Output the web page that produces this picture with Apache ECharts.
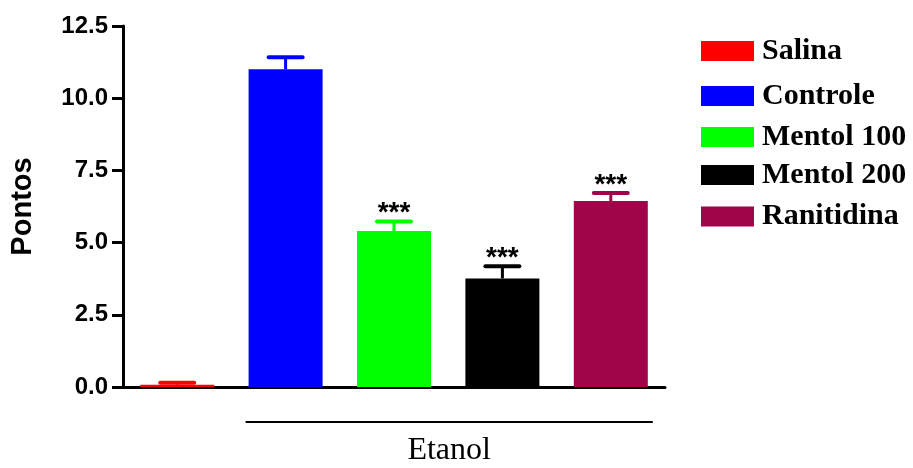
<!DOCTYPE html>
<html>
<head>
<meta charset="utf-8">
<script src="https://cdn.jsdelivr.net/npm/echarts@6/dist/echarts.min.js"></script>
<style>html,body{margin:0;padding:0;background:#fff;}#c{width:913px;height:468px;}</style>
</head>
<body>
<div id="c"></div>
<script>
const categories = ['Salina', 'Controle', 'Mentol 100', 'Mentol 200', 'Ranitidina'];
const means = [0.08, 11.0, 5.40, 3.76, 6.44];
const errors = [0.07, 0.42, 0.33, 0.42, 0.28];
const signif = ['', '', '***', '***', '***'];
const colors = ['#ff0000', '#0000ff', '#00ff00', '#000000', '#a0054a'];
const yTicks = [0, 2.5, 5.0, 7.5, 10.0, 12.5];
const groupLabel = 'Etanol';
const legendTops = [33.5, 78.5, 119.5, 157.5, 199];

const chart = echarts.init(document.getElementById('c'), null, {renderer: 'canvas'});
const BAR_W = 74;

const barSeries = categories.map((name, i) => ({
  name: name,
  type: 'bar',
  barWidth: BAR_W,
  barGap: '-100%',
  itemStyle: {color: colors[i]},
  data: categories.map((_, j) => (j === i ? means[i] : '-')),
  z: 2
}));

const errSeries = {
  type: 'custom',
  z: 3,
  data: categories.map((c, i) => [i, means[i], means[i] + errors[i]]),
  renderItem: function (params, api) {
    const i = api.value(0);
    const top = api.coord([i, api.value(2)]);
    const base = api.coord([i, api.value(1)]);
    const x = top[0];
    const col = colors[i];
    const children = [
      {type: 'line', shape: {x1: x, y1: base[1], x2: x, y2: top[1]}, style: {stroke: col, lineWidth: 3}},
      {type: 'line', shape: {x1: x - 17, y1: top[1], x2: x + 17, y2: top[1]}, style: {stroke: col, lineWidth: 4, lineCap: 'round'}}
    ];
    if (signif[i]) {
      children.push({type: 'text', style: {text: signif[i], x: x, y: top[1] - 8, textAlign: 'center', textVerticalAlign: 'middle', font: 'bold 28px "Liberation Sans", Arial, sans-serif', fill: '#000'}});
    }
    return {type: 'group', children: children};
  }
};

const legends = categories.map((name, i) => ({
  data: [name],
  left: 701,
  top: legendTops[i],
  padding: 0,
  icon: 'rect',
  itemWidth: 53,
  itemHeight: 20,
  selectedMode: false,
  textStyle: {fontFamily: '"Liberation Serif", "Times New Roman", serif', fontWeight: 'bold', fontSize: 30, color: '#000', lineHeight: 30, padding: [5, 0, 0, 3]}
}));

chart.setOption({
  animation: false,
  backgroundColor: '#fff',
  grid: {left: 123, right: 248, top: 26, bottom: 81, containLabel: false},
  legend: legends,
  xAxis: {
    type: 'category',
    data: categories,
    axisLine: {lineStyle: {color: '#000', width: 3}},
    axisTick: {show: false},
    axisLabel: {show: false},
    splitLine: {show: false}
  },
  yAxis: {
    type: 'value',
    min: yTicks[0],
    max: yTicks[yTicks.length - 1],
    interval: 2.5,
    name: 'Pontos',
    nameLocation: 'middle',
    nameGap: 86,
    nameTextStyle: {fontFamily: '"Liberation Sans", Arial, sans-serif', fontWeight: 'bold', fontSize: 29, color: '#000'},
    axisLine: {show: true, lineStyle: {color: '#000', width: 3}},
    axisTick: {show: true, length: 11, lineStyle: {color: '#000', width: 3}},
    axisLabel: {margin: 15, fontFamily: '"Liberation Sans", Arial, sans-serif', fontWeight: 'bold', fontSize: 24, color: '#000', formatter: v => v.toFixed(1)},
    splitLine: {show: false}
  },
  series: barSeries.concat([errSeries])
});

const pL = chart.convertToPixel({xAxisIndex: 0}, 1);
const pR = chart.convertToPixel({xAxisIndex: 0}, 4);
const x1 = pL - BAR_W / 2 - 3;
const x2 = pR + BAR_W / 2 + 5;
chart.setOption({
  graphic: [
    {type: 'line', shape: {x1: x1, y1: 422, x2: x2, y2: 422}, style: {stroke: '#000', lineWidth: 2}},
    {type: 'text', style: {text: groupLabel, x: (x1 + x2) / 2, y: 467, textAlign: 'center', textVerticalAlign: 'bottom', font: '32px "Liberation Serif", "Times New Roman", serif', fill: '#000'}}
  ]
});
</script>
</body>
</html>
